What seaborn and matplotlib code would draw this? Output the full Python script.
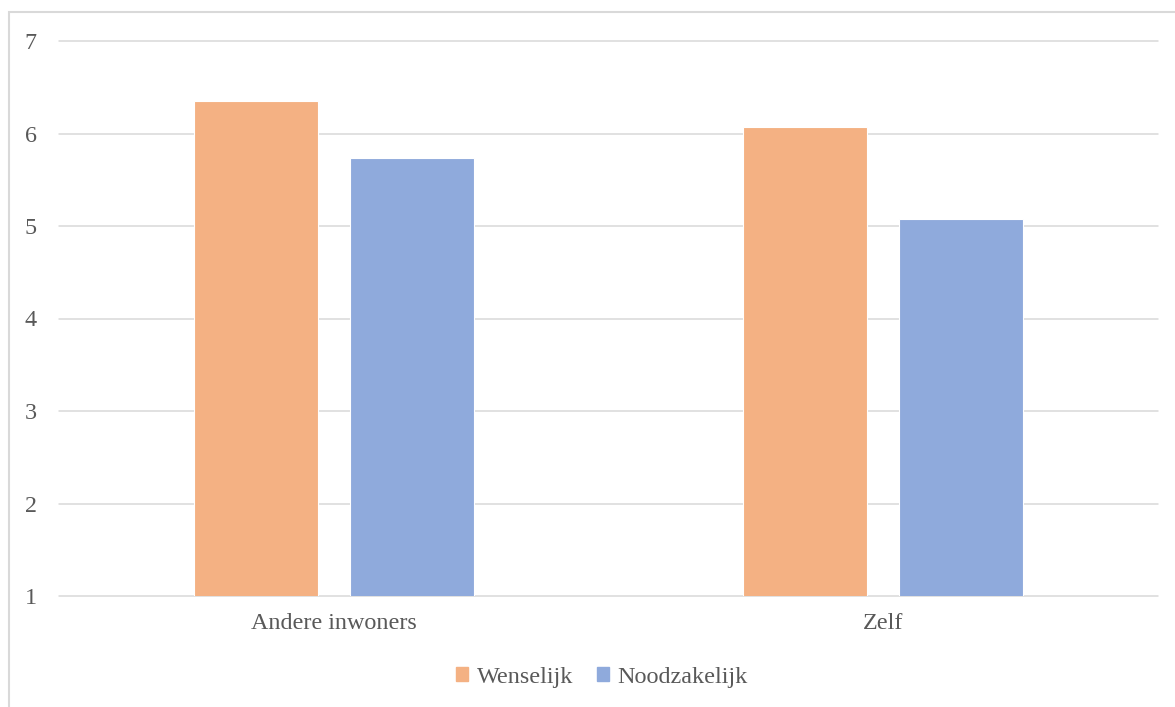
import numpy as np
import pandas as pd
import matplotlib
matplotlib.use("Agg")
import matplotlib.pyplot as plt
import seaborn as sb
from matplotlib.patches import Rectangle

categories = ["Andere inwoners", "Zelf"]
series = ["Wenselijk", "Noodzakelijk"]
wenselijk = [6.35, 6.07]
noodzakelijk = [5.73, 5.08]
yticks = [1, 2, 3, 4, 5, 6, 7]
colors = ["#F4B183", "#8FAADC"]

df = pd.DataFrame({
	"categorie": categories * 2,
	"reeks": [series[0]] * 2 + [series[1]] * 2,
	"waarde": wenselijk + noodzakelijk,
})

sb.set_style("white")
plt.rcParams["font.family"] = ["Liberation Serif", "DejaVu Serif"]
grey = "#595959"

fig = plt.figure(figsize=(11.75, 7.07), dpi=100)
ax = fig.add_axes([59/1175, 1-596/707, 1099/1175, 555/707])

sb.barplot(data=df, x="categorie", y="waarde", hue="reeks", order=categories,
	hue_order=series, palette=colors, width=0.569, gap=0.207, saturation=1,
	edgecolor="white", linewidth=0.8, ax=ax, legend=False, zorder=3)

ax.set_ylim(1, 7)
ax.set_xlim(-0.5, 1.5)
ax.set_yticks(yticks)
ax.yaxis.grid(True, color="#d9d9d9", linewidth=1.1, zorder=0)
for line in ax.get_ygridlines():
	line.set_clip_on(False)
ax.set_axisbelow(True)
for s in ax.spines.values():
	s.set_visible(False)
ax.tick_params(axis="both", length=0, labelsize=17.4, labelcolor=grey)
ax.tick_params(axis="y", pad=16)
ax.tick_params(axis="x", pad=12)
ax.set_xlabel("")
ax.set_ylabel("")

handles = [Rectangle((0, 0), 1, 1, color=c) for c in colors]
leg = fig.legend(handles, series, loc="center", bbox_to_anchor=(602/1175, 1-677/707), ncol=2,
	frameon=False, fontsize=17.4, handlelength=0.5, handleheight=0.5, handletextpad=0.35,
	columnspacing=1.0, labelcolor=grey)

fig.patches.append(Rectangle((9/1175, -0.1), 1.2, 1-12/707+0.1, fill=False,
	edgecolor="#d9d9d9", linewidth=1.5, transform=fig.transFigure, figure=fig))

plt.savefig("out.png", dpi=100)
